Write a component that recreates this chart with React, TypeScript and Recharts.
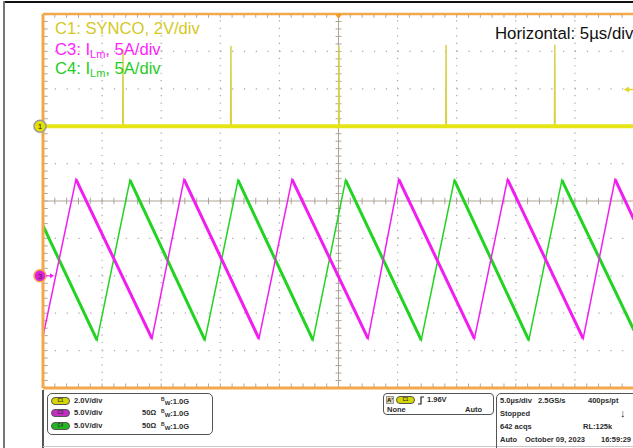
import { LineChart, Line, XAxis, YAxis, ReferenceLine, ReferenceDot } from 'recharts';

// scope settings
const TIME_PER_DIV = 5; // µs/div, 10 divisions
const C1_VOLTS_PER_DIV = 2;
const C1_OFFSET_DIV = 2;
const I_AMPS_PER_DIV = 5;
const I_OFFSET_DIV = -2;
const C1_TRIGGER_LEVEL = 1.96;

// C1 SYNCO pulses: time (µs) and peak (V)
const syncPulseTimes = [6.77, 15.9, 25.04, 34.1, 43.3];
const syncPulseVolts = [4.1, 4.3, 4.3, 4.35, 4.35];

// C3 ILm triangle corners: time (µs) and current (A)
const c3Times = [0, 2.79, 9.22, 11.93, 18.27, 21.07, 27.5, 30.1, 36.5, 39.3, 45.7, 48.4, 50];
const c3Amps = [-8.1, 12.9, -8.4, 12.9, -8.4, 12.9, -8.4, 12.9, -8.4, 12.9, -8.4, 12.9, 7.5];

// C4 ILm triangle corners
const c4Times = [0, 4.57, 7.36, 13.7, 16.5, 22.84, 25.6, 32.0, 34.8, 41.1, 43.9, 50];
const c4Amps = [6.7, -8.6, 12.8, -8.6, 12.8, -8.6, 12.8, -8.6, 12.8, -8.6, 12.8, -7.3];

const ORANGE = '#f3a84c';
const TICK = '#a8a8a8';
const GRID = '#a6a6a6';
const CENTER = '#aca596';
const YELLOW = '#e6e414';
const MAGENTA = '#f01ef0';
const GREEN = '#22d322';

type Pt = { t: number; v: number | null };

const ampsToDiv = (a: number) => a / I_AMPS_PER_DIV + I_OFFSET_DIV;
const voltsToDiv = (v: number) => v / C1_VOLTS_PER_DIV + C1_OFFSET_DIV;

const c3Data: Pt[] = c3Times.map((t, i) => ({ t, v: ampsToDiv(c3Amps[i]) }));
const c4Data: Pt[] = c4Times.map((t, i) => ({ t, v: ampsToDiv(c4Amps[i]) }));

// the slow falling ramps look thicker on the scope, draw them again on top
function fallingOnly(pts: Pt[]): Pt[] {
  const out: Pt[] = [];
  for (let i = 0; i < pts.length - 1; i++) {
    const a = pts[i];
    const b = pts[i + 1];
    if ((b.v as number) < (a.v as number)) {
      out.push(a, b, { t: b.t + 0.001, v: null });
    }
  }
  return out;
}

const syncBase: Pt[] = [{ t: 0, v: voltsToDiv(0) }, { t: 10 * TIME_PER_DIV, v: voltsToDiv(0) }];
const syncPulses: Pt[] = syncPulseTimes.flatMap((t, i) => [
  { t: t - 0.03, v: voltsToDiv(0) },
  { t, v: voltsToDiv(syncPulseVolts[i]) },
  { t: t + 0.03, v: voltsToDiv(0) },
  { t: t + 0.04, v: null },
]);

const majorX = [5, 10, 15, 20, 30, 35, 40, 45];
const majorY = [-4, -3, -2, -1, 1, 2, 3, 4];
const minorX = Array.from({ length: 51 }, (_, i) => i);
const minorY = Array.from({ length: 51 }, (_, i) => Math.round((-5 + i * 0.2) * 10) / 10);

const FONT = '"Liberation Sans", Arial, sans-serif';

function Txt({ x, y, children, size = 7.5, color = '#2b2b2b' }: any) {
  return (
    <div style={{ position: 'absolute', left: x, top: y - size / 2 - 0.5, fontSize: size, lineHeight: 1, fontWeight: 'bold', color, whiteSpace: 'nowrap' }}>
      {children}
    </div>
  );
}

function Pill({ x, y, label, fill }: { x: number; y: number; label: string; fill: string }) {
  return (
    <div style={{ position: 'absolute', left: x, top: y - 4, width: 19, height: 8, borderRadius: 4, background: fill, border: '1px solid #555', boxSizing: 'border-box', fontSize: 4.5, lineHeight: '6px', textAlign: 'center', color: '#333', fontWeight: 'bold' }}>
      {label}
    </div>
  );
}

const BW = () => (
  <span>
    <span style={{ fontSize: 5, verticalAlign: 3 }}>B</span>
    <span style={{ fontSize: 6, verticalAlign: -1 }}>W</span>:1.0G
  </span>
);

export default function App() {
  return (
    <div style={{ position: 'fixed', left: 0, top: 0, width: 633, height: 448, overflow: 'hidden', background: '#fff', fontFamily: FONT }}>
      {/* screen frame */}
      <div style={{ position: 'absolute', left: 4, top: 1, width: 640, height: 2, background: '#111' }} />
      <div style={{ position: 'absolute', left: 3, top: 1, width: 2, height: 448, background: '#777' }} />

      <div style={{ position: 'absolute', left: 0, top: 0 }}>
        <LineChart width={640} height={400} margin={{ top: 14, right: 6, bottom: 12, left: 43 }}>
          <XAxis type="number" dataKey="t" domain={[0, 10 * TIME_PER_DIV]} hide allowDataOverflow />
          <YAxis type="number" domain={[-5, 5]} hide allowDataOverflow />

          {majorX.map((x) => (
            <ReferenceLine key={'gx' + x} x={x} stroke={GRID} strokeWidth={1.2} strokeDasharray="1.2 6.28" />
          ))}
          {majorY.map((y) => (
            <ReferenceLine key={'gy' + y} y={y} stroke={GRID} strokeWidth={1.2} strokeDasharray="1.2 10.62" />
          ))}
          <ReferenceLine x={25} stroke={CENTER} />
          <ReferenceLine y={0} stroke={CENTER} />
          {minorX.map((x) => (
            <ReferenceLine key={'tx' + x} segment={[{ x, y: -0.09 }, { x, y: 0.09 }]} stroke={CENTER} />
          ))}
          {minorY.map((y) => (
            <ReferenceLine key={'ty' + y} segment={[{ x: 24.75, y }, { x: 25.25, y }]} stroke={CENTER} />
          ))}
          {/* edge ticks */}
          {minorX.map((x) => (
            <ReferenceLine key={'bx' + x} segment={[{ x, y: -5 }, { x, y: -4.88 }]} stroke={TICK} />
          ))}
          {minorX.map((x) => (
            <ReferenceLine key={'txx' + x} segment={[{ x, y: 5 }, { x, y: 4.9 }]} stroke={TICK} />
          ))}
          {minorY.map((y) => (
            <ReferenceLine key={'ly' + y} segment={[{ x: 0, y }, { x: 0.4, y }]} stroke={TICK} />
          ))}

          <Line data={c4Data} dataKey="v" type="linear" stroke={GREEN} strokeWidth={1.5} dot={false} isAnimationActive={false} />
          <Line data={fallingOnly(c4Data)} dataKey="v" type="linear" stroke={GREEN} strokeWidth={3} dot={false} isAnimationActive={false} />
          <Line data={c3Data} dataKey="v" type="linear" stroke={MAGENTA} strokeWidth={1.5} dot={false} isAnimationActive={false} />
          <Line data={fallingOnly(c3Data)} dataKey="v" type="linear" stroke={MAGENTA} strokeWidth={3} dot={false} isAnimationActive={false} />
          <Line data={syncPulses} dataKey="v" type="linear" stroke="#d8d24a" strokeWidth={1.5} dot={false} isAnimationActive={false} />
          <Line data={syncBase} dataKey="v" type="linear" stroke={YELLOW} strokeWidth={4} dot={false} isAnimationActive={false} />

          {/* orange frame of the graticule */}
          <ReferenceLine x={0} stroke={ORANGE} strokeWidth={3} ifOverflow="visible" />
          <ReferenceLine y={5} stroke={ORANGE} strokeWidth={2.5} ifOverflow="visible" />
          <ReferenceLine y={-5} stroke={ORANGE} strokeWidth={3} ifOverflow="visible" />

          <ReferenceDot x={0} y={C1_OFFSET_DIV} ifOverflow="visible" shape={(p: any) => (
            <g>
              <circle cx={p.cx - 3} cy={p.cy} r={6} fill="#e4e000" stroke="#9a9a9a" strokeWidth={1.5} />
              <text x={p.cx - 3} y={p.cy + 3} textAnchor="middle" fontSize={8} fontFamily={FONT} fill="#222">1</text>
            </g>
          )} />
          <ReferenceDot x={0} y={I_OFFSET_DIV} ifOverflow="visible" shape={(p: any) => (
            <g>
              <circle cx={p.cx - 3} cy={p.cy} r={6} fill="#e21ee2" stroke={ORANGE} strokeWidth={1.5} />
              <text x={p.cx - 3} y={p.cy + 3} textAnchor="middle" fontSize={8} fontFamily={FONT} fill="#333">3</text>
              <line x1={p.cx + 3} y1={p.cy} x2={p.cx + 9} y2={p.cy} stroke={MAGENTA} strokeWidth={1.2} />
              <path d={`M${p.cx + 11},${p.cy} L${p.cx + 7},${p.cy - 2.5} L${p.cx + 7},${p.cy + 2.5} Z`} fill={MAGENTA} />
            </g>
          )} />
          <ReferenceDot x={10 * TIME_PER_DIV} y={voltsToDiv(C1_TRIGGER_LEVEL)} ifOverflow="visible" shape={(p: any) => (
            <g>
              <line x1={p.cx - 6} y1={p.cy} x2={p.cx} y2={p.cy} stroke="#e0d820" strokeWidth={1.5} />
              <path d={`M${p.cx - 10},${p.cy} L${p.cx - 5},${p.cy - 3} L${p.cx - 5},${p.cy + 3} Z`} fill="#e0d820" />
            </g>
          )} />
          <ReferenceDot x={25} y={5} ifOverflow="visible" shape={(p: any) => (
            <path d={`M${p.cx - 3.5},${p.cy} L${p.cx + 3.5},${p.cy} L${p.cx},${p.cy + 5} Z`} fill="#f39a30" />
          )} />
        </LineChart>
      </div>

      {/* channel annotations */}
      <div style={{ position: 'absolute', left: 55, top: 21, fontSize: 16.6, lineHeight: 1, color: '#d4c924', whiteSpace: 'nowrap' }}>C1: SYNCO, 2V/div</div>
      <div style={{ position: 'absolute', left: 55, top: 42, fontSize: 16.6, lineHeight: 1, color: '#ff22ff', whiteSpace: 'nowrap' }}>
        C3: I<span style={{ fontSize: 11, verticalAlign: -3 }}>Lm</span>, 5A/div
      </div>
      <div style={{ position: 'absolute', left: 55, top: 61, fontSize: 16.6, lineHeight: 1, color: '#1fcc1f', whiteSpace: 'nowrap' }}>
        C4: I<span style={{ fontSize: 11, verticalAlign: -3 }}>Lm</span>, 5A/div
      </div>
      <div style={{ position: 'absolute', left: 495, top: 26, fontSize: 16.8, lineHeight: 1, color: '#111', whiteSpace: 'nowrap' }}>Horizontal: 5µs/div</div>

      {/* status panel */}
      <div style={{ position: 'absolute', left: 42, top: 390, width: 1.5, height: 60, background: '#555' }} />
      <div style={{ position: 'absolute', left: 43, top: 446, width: 600, height: 1, background: '#c8c8c8' }} />

      <div style={{ position: 'absolute', left: 47, top: 393, width: 166, height: 42, border: '1px solid #555', borderRadius: 5, boxSizing: 'border-box' }} />
      <Pill x={51} y={401} label="C1" fill="#d6d600" />
      <Pill x={51} y={413} label="C3" fill="#c22ec2" />
      <Pill x={51} y={426} label="C4" fill="#22b822" />
      <Txt x={74} y={401}>2.0V/div</Txt>
      <Txt x={74} y={413}>5.0V/div</Txt>
      <Txt x={74} y={426}>5.0V/div</Txt>
      <Txt x={142} y={413}>50Ω</Txt>
      <Txt x={142} y={426}>50Ω</Txt>
      <Txt x={161} y={401}><BW /></Txt>
      <Txt x={161} y={413}><BW /></Txt>
      <Txt x={161} y={426}><BW /></Txt>

      <div style={{ position: 'absolute', left: 383, top: 393, width: 111, height: 22, border: '1px solid #555', borderRadius: 4, boxSizing: 'border-box' }} />
      <div style={{ position: 'absolute', left: 386, top: 396, width: 8, height: 8, background: '#e2d6a8', border: '1px solid #999', boxSizing: 'border-box', fontSize: 6, lineHeight: '6px', fontWeight: 'bold', textAlign: 'center' }}>A'</div>
      <Pill x={396} y={400} label="C1" fill="#d6d600" />
      <svg style={{ position: 'absolute', left: 417, top: 396 }} width={8} height={9}>
        <path d="M1,8 L4,8 L4,1 L7,1" stroke="#222" strokeWidth={1.2} fill="none" />
      </svg>
      <Txt x={427} y={400}>1.96V</Txt>
      <Txt x={387} y={410}>None</Txt>
      <Txt x={465} y={410}>Auto</Txt>

      <div style={{ position: 'absolute', left: 496, top: 393, width: 150, height: 70, border: '1px solid #555', borderRadius: 5, boxSizing: 'border-box' }} />
      <Txt x={500} y={401}>5.0µs/div</Txt>
      <Txt x={538} y={401}>2.5GS/s</Txt>
      <Txt x={588} y={401}>400ps/pt</Txt>
      <Txt x={500} y={414}>Stopped</Txt>
      <Txt x={620} y={414} size={11}>↓</Txt>
      <Txt x={500} y={427}>642 acqs</Txt>
      <Txt x={583} y={427}>RL:125k</Txt>
      <Txt x={500} y={440}>Auto</Txt>
      <Txt x={525} y={440}>October 09, 2023</Txt>
      <Txt x={601} y={440}>16:59:29</Txt>
    </div>
  );
}
